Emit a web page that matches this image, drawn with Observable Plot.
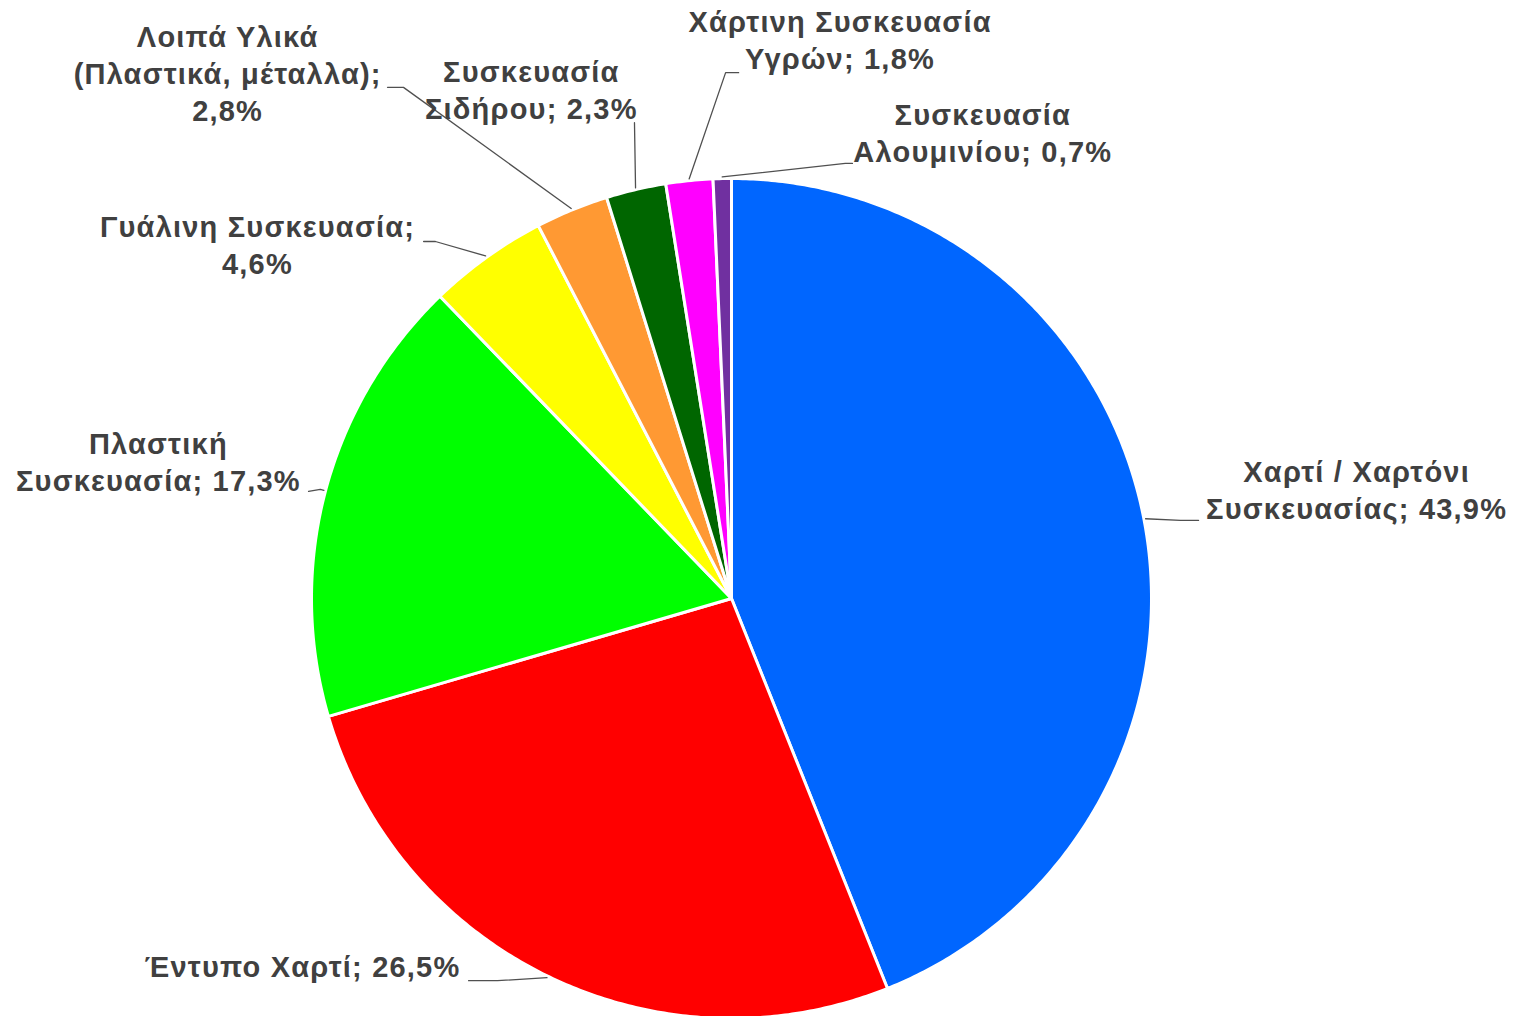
<!DOCTYPE html>
<html>
<head>
<meta charset="utf-8">
<script src="https://cdn.jsdelivr.net/npm/d3@7"></script>
<script src="https://cdn.jsdelivr.net/npm/@observablehq/plot@0.6"></script>
<style>
  html, body { margin: 0; padding: 0; background: #fff; }
  #chart { width: 1519px; height: 1016px; overflow: hidden; }
  #chart svg text { letter-spacing: 1.2px; }
</style>
</head>
<body>
<div id="chart"></div>
<script>
// ---- data ----
const categories = [
  "Χαρτί / Χαρτόνι Συσκευασίας",
  "Έντυπο Χαρτί",
  "Πλαστική Συσκευασία",
  "Γυάλινη Συσκευασία",
  "Λοιπά Υλικά (Πλαστικά, μέταλλα)",
  "Συσκευασία Σιδήρου",
  "Χάρτινη Συσκευασία Υγρών",
  "Συσκευασία Αλουμινίου"
];
const values = [43.9, 26.5, 17.3, 4.6, 2.8, 2.3, 1.8, 0.7];
const colors = ["#0066FF", "#FF0000", "#00FF00", "#FFFF00", "#FF9933", "#006600", "#FF00FF", "#7030A0"];

// ---- label layout (in units of pie radius, relative to pie centre) ----
// brk: break the name after this many words (0 = none); own: value on its own line
const labelLayout = [
  {brk: 3, own: false, tx: 1.486, ty: 0.254, pts: [[1.069, 0.186], [1.112, 0.186]]},
  {brk: 0, own: false, tx: -1.024, ty: -0.881, pts: [[-0.557, -0.910], [-0.626, -0.910]]},
  {brk: 1, own: false, tx: -1.367, ty: 0.320, pts: [[-0.979, 0.260], [-1.007, 0.255]]},
  {brk: 0, own: true, tx: -1.131, ty: 0.837, pts: [[-0.705, 0.850], [-0.733, 0.850]]},
  {brk: 2, own: true, tx: -1.202, ty: 1.245, pts: [[-0.781, 1.217], [-0.819, 1.217]]},
  {brk: 1, own: false, tx: -0.479, ty: 1.206, pts: [[-0.231, 1.133]]},
  {brk: 2, own: false, tx: 0.256, ty: 1.325, pts: [[-0.014, 1.252], [0.017, 1.252]]},
  {brk: 1, own: false, tx: 0.596, ty: 1.104, pts: [[0.271, 1.036], [0.288, 1.036]]}
];

// ---- geometry ----
const W = 1519, H = 1016;
const R = 420, cx = 731, cy = 598; // pixel placement of pie
const xDomain = [-cx / R, (W - cx) / R];
const yDomain = [(cy - H) / R, cy / R];

const arcs = d3.pie().sort(null).value(d => d)(values);

function slicePoints(a0, a1) {
  const n = Math.max(2, Math.ceil((a1 - a0) / (Math.PI / 360)));
  const pts = [[0, 0]];
  for (let i = 0; i <= n; i++) {
    const a = a0 + (a1 - a0) * i / n;
    pts.push([Math.sin(a), Math.cos(a)]);
  }
  pts.push([0, 0]);
  return pts;
}

const fmt = v => v.toFixed(1).replace(".", ",") + "%";

function labelText(i) {
  const words = categories[i].split(" ");
  const L = labelLayout[i];
  let lines = L.brk > 0 ? [words.slice(0, L.brk).join(" "), words.slice(L.brk).join(" ")] : [categories[i]];
  if (L.own) { lines[lines.length - 1] += ";"; lines.push(fmt(values[i])); }
  else lines[lines.length - 1] += "; " + fmt(values[i]);
  return lines.join("\n");
}

const sliceMarks = arcs.map((a, i) =>
  Plot.line(slicePoints(a.startAngle, a.endAngle), {
    x: d => d[0], y: d => d[1],
    fill: colors[i], stroke: "#ffffff", strokeWidth: 3, strokeLinejoin: "round", curve: "linear"
  })
);

const leaderData = [];
arcs.forEach((a, i) => {
  const m = (a.startAngle + a.endAngle) / 2;
  leaderData.push({k: i, x: Math.sin(m) * 1.004, y: Math.cos(m) * 1.004});
  labelLayout[i].pts.forEach(p => leaderData.push({k: i, x: p[0], y: p[1]}));
});

const textData = categories.map((c, i) => ({x: labelLayout[i].tx, y: labelLayout[i].ty, t: labelText(i)}));

const chart = Plot.plot({
  width: W, height: H,
  margin: 0,
  x: {domain: xDomain, axis: null},
  y: {domain: yDomain, axis: null},
  style: {background: "#ffffff"},
  marks: [
    ...sliceMarks,
    Plot.line(leaderData, {x: "x", y: "y", z: "k", stroke: "#505050", strokeWidth: 1.3, curve: "linear"}),
    Plot.text(textData, {
      x: "x", y: "y", text: "t", dy: -3, dx: 1,
      fontSize: 29, fontWeight: "bold", fontFamily: "Liberation Sans, Arial, sans-serif",
      fill: "#404040", lineHeight: 1.276, textAnchor: "middle"
    })
  ]
});
document.getElementById("chart").appendChild(chart);
</script>
</body>
</html>
